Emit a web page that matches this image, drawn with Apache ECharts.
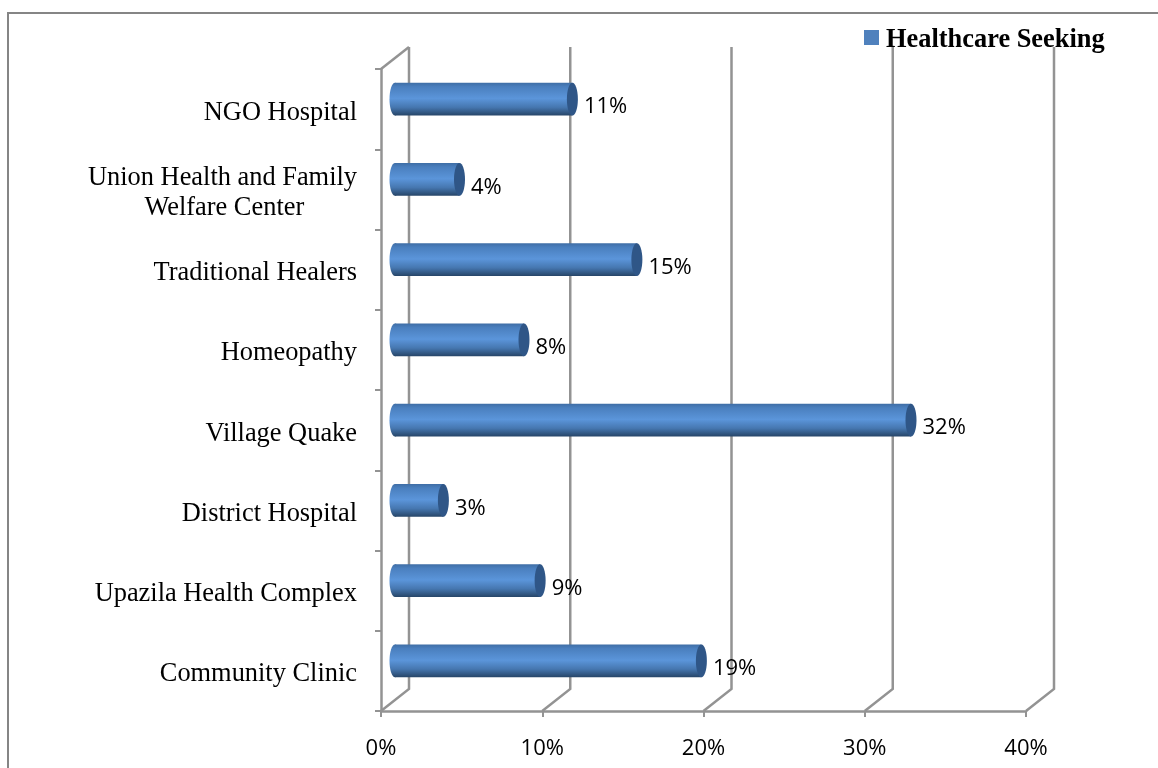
<!DOCTYPE html>
<html>
<head>
<meta charset="utf-8">
<style>
  html, body { margin: 0; padding: 0; background: #fff; }
  #chart { width: 1158px; height: 768px; }
</style>
<script src="https://cdn.jsdelivr.net/npm/echarts@6/dist/echarts.min.js"></script>
</head>
<body>
<div id="chart"></div>
<script>
const categories = [
  'Community Clinic',
  'Upazila Health Complex',
  'District Hospital',
  'Village Quake',
  'Homeopathy',
  'Traditional Healers',
  'Union Health and Family\nWelfare Center',
  'NGO Hospital'
]
const seeking = [19, 9, 3, 32, 8, 15, 4, 11]
const xTicks = [0, 10, 20, 30, 40]

const gray = '#939393'
const labelFont = '"Open Sans", "Noto Sans", sans-serif'
const serifFont = '"Liberation Serif", "Times New Roman", serif'

// the 3d look: back wall sits up and right of the axes, bars sit half way
const wallDx = 28
const wallDy = -22
const barDx = 14
const barDy = -10

const chart = echarts.init(document.getElementById('chart'), null, { renderer: 'canvas' })

function renderWall(params, api) {
  const tick = api.value(0)
  const bottom = api.coord([tick, 0])
  const rect = params.coordSys
  const x = bottom[0]
  const yBottom = rect.y + rect.height
  const yTop = rect.y
  return {
    type: 'polyline',
    shape: {
      points: [[x, yBottom], [x + wallDx, yBottom + wallDy], [x + wallDx, yTop + wallDy]]
    },
    style: { stroke: gray, lineWidth: 2.5, fill: null },
    silent: true
  }
}

function renderBar(params, api) {
  const start = api.coord([0, api.value(1)])
  const end = api.coord([api.value(0), api.value(1)])
  const h = api.size([0, 1])[1] * 0.405
  const rx = 5.5
  const x0 = start[0] + barDx
  const x1 = end[0] + barDx
  const cy = start[1] + barDy
  const body = new echarts.graphic.LinearGradient(0, 0, 0, 1, [
    { offset: 0, color: '#3f6ea6' },
    { offset: 0.12, color: '#4a7fbe' },
    { offset: 0.48, color: '#5b95da' },
    { offset: 0.75, color: '#4677b0' },
    { offset: 1, color: '#274669' }
  ])
  return {
    type: 'group',
    children: [
      { type: 'ellipse', shape: { cx: x0, cy: cy, rx: rx, ry: h / 2 }, style: { fill: body } },
      { type: 'rect', shape: { x: x0, y: cy - h / 2, width: x1 - x0, height: h }, style: { fill: body } },
      { type: 'ellipse', shape: { cx: x1, cy: cy, rx: rx, ry: h / 2 }, style: { fill: '#2f5687' } },
      {
        type: 'text',
        x: x1 + rx + 6,
        y: cy + 8,
        style: {
          text: api.value(0) + '%',
          fill: '#000',
          font: '22px ' + labelFont,
          verticalAlign: 'middle'
        }
      }
    ]
  }
}

chart.setOption({
  animation: false,
  backgroundColor: '#fff',
  graphic: [{
    // chart frame, cut off on the right and at the bottom of the picture
    type: 'polyline',
    shape: { points: [[8, 768], [8, 13], [1158, 13]] },
    style: { fill: null, stroke: '#858585', lineWidth: 2 },
    silent: true,
    z: -1
  }, {
    // left corner of the wall, above the category axis
    type: 'line',
    shape: { x1: 381, y1: 69, x2: 381 + wallDx, y2: 69 + wallDy },
    style: { stroke: gray, lineWidth: 2.5 },
    silent: true
  }],
  legend: {
    left: 864,
    top: 27,
    padding: 0,
    icon: 'rect',
    itemWidth: 15,
    itemHeight: 15,
    itemGap: 0,
    data: ['Healthcare Seeking'],
    selectedMode: false,
    formatter: '{a|{name}}',
    textStyle: {
      rich: {
        a: {
          fontFamily: serifFont,
          fontWeight: 'bold',
          fontSize: 26.4,
          color: '#000',
          padding: [5, 0, 0, 2]
        }
      }
    }
  },
  // second grid only carries the category labels, they sit a little below their ticks
  grid: [
    { left: 381, right: 132, top: 69, bottom: 57 },
    { left: 381, right: 132, top: 72.5, bottom: 53.5 }
  ],
  xAxis: [{
    type: 'value',
    min: 0,
    max: 40,
    interval: 10,
    axisLine: { show: true, lineStyle: { color: gray, width: 2.5 } },
    axisTick: { show: true, length: 6, lineStyle: { color: gray, width: 2 } },
    splitLine: { show: false },
    axisLabel: {
      formatter: '{value}%',
      color: '#000',
      fontFamily: labelFont,
      fontSize: 22,
      margin: 27
    }
  }, {
    type: 'value',
    gridIndex: 1,
    show: false
  }],
  yAxis: [{
    type: 'category',
    data: categories,
    axisLine: { show: true, onZero: false, lineStyle: { color: gray, width: 2.5 } },
    axisTick: { show: true, length: 6, lineStyle: { color: gray, width: 2 } },
    axisLabel: { show: false }
  }, {
    type: 'category',
    gridIndex: 1,
    data: categories,
    axisLine: { show: false },
    axisTick: { show: false },
    axisLabel: {
      // second line of a wrapped label is centred under the first in the original
      formatter: function (v) {
        return v.replace(/(\n.*)$/, '$1' + '\u00a0'.repeat(8))
      },
      color: '#000',
      fontFamily: serifFont,
      fontSize: 26.4,
      lineHeight: 30,
      margin: 24,
      align: 'right'
    }
  }],
  series: [{
    type: 'custom',
    name: 'wall',
    coordinateSystem: 'cartesian2d',
    renderItem: renderWall,
    encode: { x: 0 },
    data: xTicks.map(function (t) { return [t] }),
    z: 1,
    silent: true,
    clip: false
  }, {
    type: 'custom',
    name: 'Healthcare Seeking',
    coordinateSystem: 'cartesian2d',
    renderItem: renderBar,
    itemStyle: { color: '#4f81bd' },
    encode: { x: 0, y: 1 },
    data: seeking.map(function (v, i) { return [v, i] }),
    z: 3,
    clip: false
  }]
})
</script>
</body>
</html>
